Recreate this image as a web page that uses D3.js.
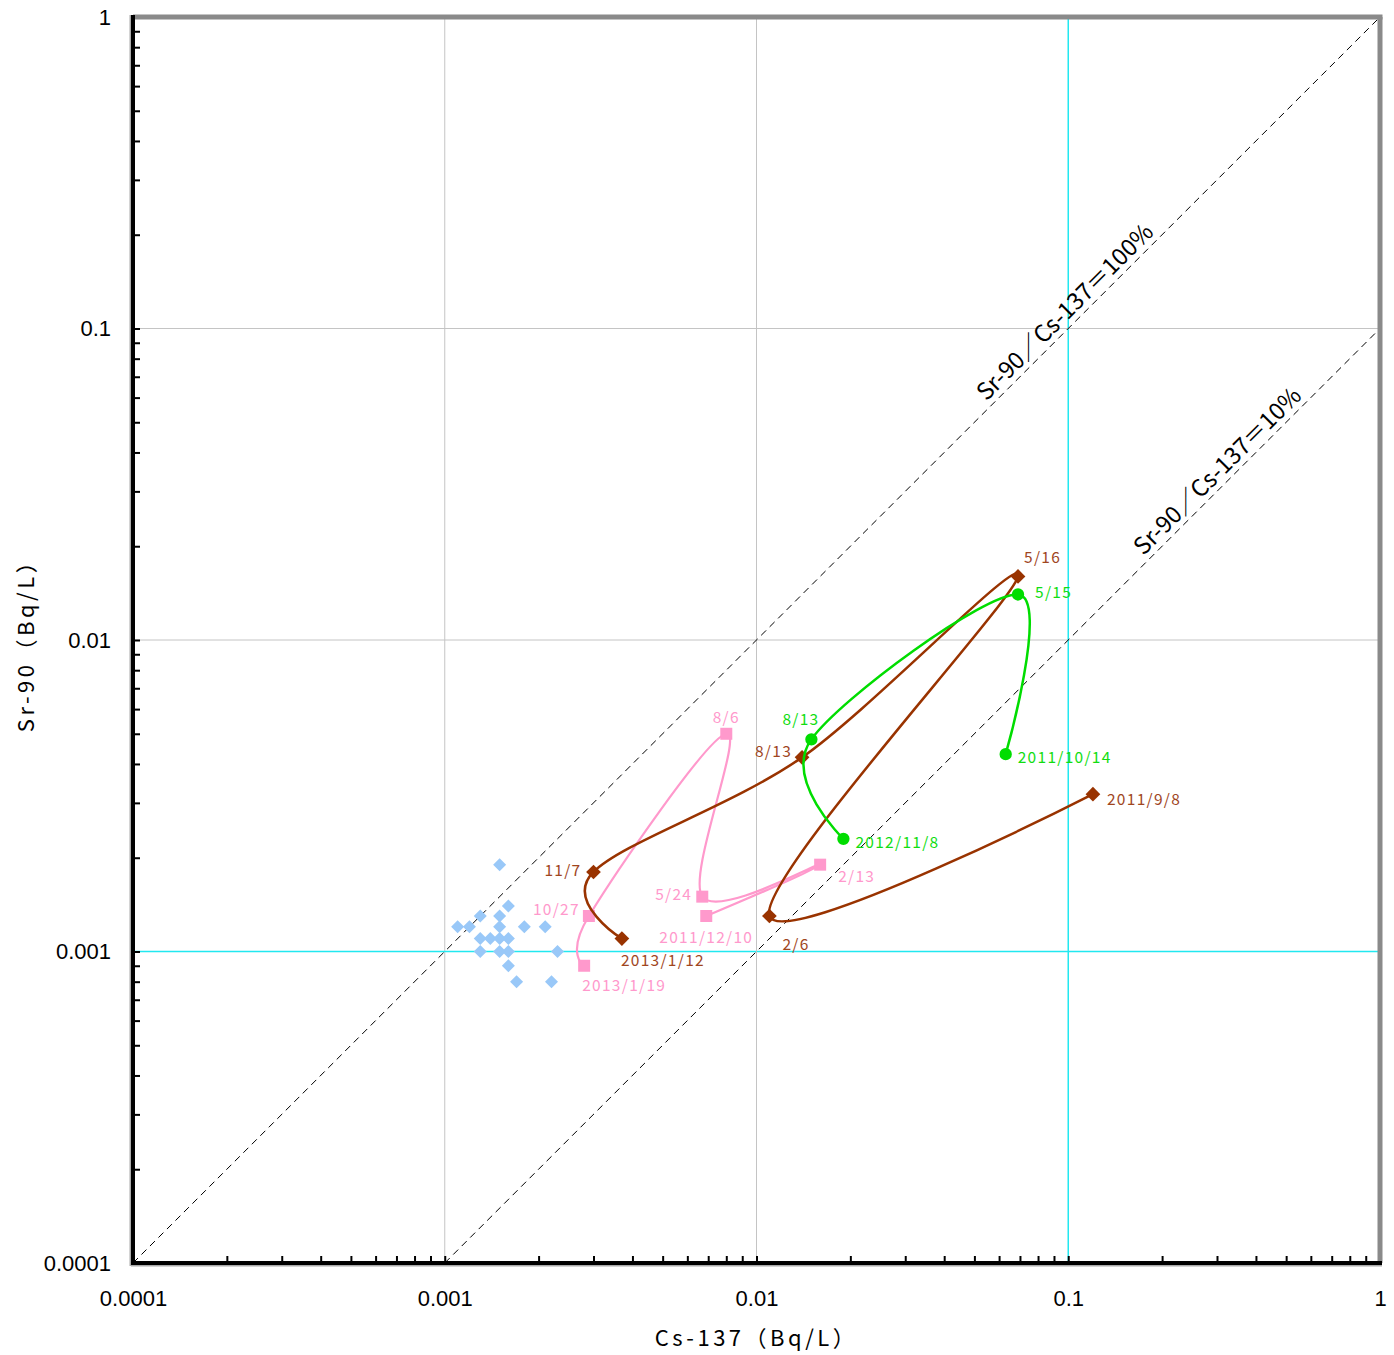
<!DOCTYPE html>
<html><head><meta charset="utf-8">
<script src="https://cdn.jsdelivr.net/npm/d3@7"></script>
<style>
html,body{margin:0;padding:0;background:#fff;}
svg{display:block;}
</style></head>
<body>
<svg id="chart" width="1394" height="1355"></svg>
<script>
// ---------------- data ----------------
const xTickLabels = ["0.0001", "0.001", "0.01", "0.1", "1"];
const yTickLabels = ["0.0001", "0.001", "0.01", "0.1", "1"];
const decadeValues = [0.0001, 0.001, 0.01, 0.1, 1];

// background scatter (no dates)
const blueCs = [0.0015, 0.0016, 0.0013, 0.0015, 0.0011, 0.0012, 0.0015, 0.0018, 0.0021, 0.0013,
                0.0014, 0.0015, 0.0016, 0.0013, 0.0015, 0.0016, 0.0023, 0.0016, 0.0017, 0.0022];
const blueSr = [0.0019, 0.0014, 0.0013, 0.0013, 0.0012, 0.0012, 0.0012, 0.0012, 0.0012, 0.0011,
                0.0011, 0.0011, 0.0011, 0.0010, 0.0010, 0.0010, 0.0010, 0.0009, 0.0008, 0.0008];

// brown series (diamonds)
const brownDates = ["2011/9/8", "2/6", "5/16", "8/13", "11/7", "2013/1/12"];
const brownCs = [0.12, 0.011, 0.069, 0.014, 0.0030, 0.0037];
const brownSr = [0.0032, 0.0013, 0.016, 0.0042, 0.0018, 0.0011];

// green series (circles)
const greenDates = ["2011/10/14", "5/15", "8/13", "2012/11/8"];
const greenCs = [0.063, 0.069, 0.015, 0.019];
const greenSr = [0.0043, 0.014, 0.0048, 0.0023];

// pink series (squares)
const pinkDates = ["2011/12/10", "2/13", "5/24", "8/6", "10/27", "2013/1/19"];
const pinkCs = [0.0069, 0.016, 0.0067, 0.0080, 0.0029, 0.0028];
const pinkSr = [0.0013, 0.0019, 0.0015, 0.0050, 0.0013, 0.0009];

// ratio reference lines
const ratioValues = [1, 0.1];
const ratioLabels = ["Sr-90／Cs-137＝100%", "Sr-90／Cs-137＝10%"];

// ---------------- layout ----------------
const L = 133, R = 1380, T = 17, B = 1263;
const svg = d3.select("#chart");
const x = d3.scaleLog().domain([0.0001, 1]).range([L, R]);
const y = d3.scaleLog().domain([0.0001, 1]).range([B, T]);

const labelOffsets = {
  brown: [[14, 4, "start"], [13, 27, "start"], [6, -20, "start"], [-10, -7, "end"], [-12, -3, "end"], [-1, 20, "start"]],
  green: [[12, 2, "start"], [17, -3, "start"], [-29, -21, "start"], [12, 2, "start"]],
  pink: [[0, 20, "middle"], [18, 10, "start"], [-10, -4, "end"], [0, -18, "middle"], [-9, -8, "end"], [-2, 18, "start"]]
};

const labelFont = "'Noto Sans CJK JP', 'Noto Sans CJK SC', sans-serif";

// gridlines
const grid = svg.append("g");
decadeValues.slice(1, -1).forEach(v => {
  grid.append("line").attr("x1", x(v)).attr("x2", x(v)).attr("y1", T).attr("y2", B)
    .attr("stroke", v === 0.1 ? "#22e8f0" : "#c4c4c4").attr("stroke-width", v === 0.1 ? 1.5 : 1);
  grid.append("line").attr("x1", L).attr("x2", R).attr("y1", y(v)).attr("y2", y(v))
    .attr("stroke", v === 0.001 ? "#22e8f0" : "#c4c4c4").attr("stroke-width", v === 0.001 ? 1.5 : 1);
});

// ratio lines
svg.append("clipPath").attr("id", "plotclip").append("rect")
  .attr("x", L).attr("y", T).attr("width", R - L).attr("height", B - T);
const ratioG = svg.append("g").attr("clip-path", "url(#plotclip)");
const angle = Math.atan2(y(1) - y(0.0001), x(1) - x(0.0001)) * 180 / Math.PI;
ratioValues.forEach((r) => {
  const x0 = Math.max(0.0001, 0.0001 / r);
  ratioG.append("line")
    .attr("x1", x(x0)).attr("y1", y(x0 * r))
    .attr("x2", x(1)).attr("y2", y(r))
    .attr("stroke", "#000").attr("stroke-width", 1).attr("stroke-dasharray", "7,5");
});
const ratioAnchor = [0.105, 0.324];
ratioValues.forEach((r, i) => {
  const cx = ratioAnchor[i];
  svg.append("text")
    .attr("transform", `translate(${x(cx)},${y(cx * r)}) rotate(${angle})`)
    .attr("y", -6)
    .attr("text-anchor", "middle")
    .attr("font-family", labelFont)
    .attr("font-size", 23.5)
    .attr("fill", "#000")
    .text(ratioLabels[i]);
});

// axes
const allTicks = [];
for (let e = -4; e < 0; e++) for (let m = 1; m <= 9; m++) allTicks.push(m * Math.pow(10, e));
allTicks.push(1);
const findDecade = d => decadeValues.findIndex(v => Math.abs(v - d) / v < 1e-6);
const fmtX = d => { const i = findDecade(d); return i >= 0 ? xTickLabels[i] : ""; };
const fmtY = d => { const i = findDecade(d); return i >= 0 ? yTickLabels[i] : ""; };
const xAxis = svg.append("g").attr("transform", `translate(0,${B})`)
  .call(d3.axisBottom(x).tickValues(allTicks).tickFormat(fmtX).tickSize(-7).tickPadding(27));
const yAxis = svg.append("g").attr("transform", `translate(${L},0)`)
  .call(d3.axisLeft(y).tickValues(allTicks).tickFormat(fmtY).tickSize(-7).tickPadding(22));
[xAxis, yAxis].forEach(g => {
  g.select(".domain").remove();
  g.selectAll(".tick line").attr("stroke", "#000").attr("stroke-width", 2);
  g.selectAll("text").attr("font-family", "'Liberation Sans', Arial, sans-serif")
    .attr("font-size", 22).attr("fill", "#000");
});

// frame: top & right gray, left & bottom black with shadow
svg.append("line").attr("x1", L).attr("x2", R + 2.5).attr("y1", T).attr("y2", T)
  .attr("stroke", "#8a8a8a").attr("stroke-width", 5);
svg.append("line").attr("x1", R).attr("x2", R).attr("y1", T).attr("y2", B)
  .attr("stroke", "#8a8a8a").attr("stroke-width", 5);
svg.append("line").attr("x1", L - 2.5).attr("x2", L - 2.5).attr("y1", T - 2).attr("y2", B + 3)
  .attr("stroke", "#aaaaaa").attr("stroke-width", 2);
svg.append("line").attr("x1", L - 2).attr("x2", R + 2).attr("y1", B + 2.5).attr("y2", B + 2.5)
  .attr("stroke", "#aaaaaa").attr("stroke-width", 2);
svg.append("line").attr("x1", L).attr("x2", L).attr("y1", T - 2).attr("y2", B + 2)
  .attr("stroke", "#000").attr("stroke-width", 4);
svg.append("line").attr("x1", L - 2).attr("x2", R + 2).attr("y1", B).attr("y2", B)
  .attr("stroke", "#000").attr("stroke-width", 4);

// axis titles
svg.append("text").attr("x", (L + R) / 2).attr("y", 1346).attr("text-anchor", "middle")
  .attr("font-family", labelFont).attr("font-size", 22).attr("letter-spacing", 3.5).attr("fill", "#000")
  .text("Cs-137（Bq/L）");
svg.append("text").attr("transform", `translate(34,${(T + B) / 2}) rotate(-90)`)
  .attr("text-anchor", "middle")
  .attr("font-family", labelFont).attr("font-size", 22).attr("letter-spacing", 3.5).attr("fill", "#000")
  .text("Sr-90（Bq/L）");

// blue scatter
const blueData = blueCs.map((c, i) => [c, blueSr[i]]);
svg.append("g").selectAll("path").data(blueData).join("path")
  .attr("transform", d => `translate(${x(d[0])},${y(d[1])}) rotate(45)`)
  .attr("d", "M-4.6,-4.6H4.6V4.6H-4.6Z")
  .attr("fill", "#99c8f8");

// series
const line = d3.line().x(d => x(d[0])).y(d => y(d[1])).curve(d3.curveCatmullRom.alpha(0));
function series(cs, sr, dates, color, labelColor, width, shape, offsets) {
  const data = cs.map((c, i) => [c, sr[i], dates[i]]);
  const g = svg.append("g");
  g.append("path").datum(data).attr("d", line).attr("fill", "none")
    .attr("stroke", color).attr("stroke-width", width);
  const m = g.selectAll(".m").data(data).join("path")
    .attr("transform", d => `translate(${x(d[0])},${y(d[1])})` + (shape === "diamond" ? " rotate(45)" : ""))
    .attr("fill", color);
  if (shape === "diamond") m.attr("d", "M-5.2,-5.2H5.2V5.2H-5.2Z");
  else if (shape === "square") m.attr("d", "M-6,-6H6V6H-6Z");
  else m.attr("d", d3.symbol().type(d3.symbolCircle).size(Math.PI * 38));
  g.selectAll(".lbl").data(data).join("text")
    .attr("x", (d, i) => x(d[0]) + offsets[i][0])
    .attr("y", (d, i) => y(d[1]) + offsets[i][1])
    .attr("text-anchor", (d, i) => offsets[i][2])
    .attr("dominant-baseline", "central")
    .attr("font-family", labelFont).attr("font-size", 15.5).attr("letter-spacing", 1.3)
    .attr("fill", labelColor)
    .text(d => d[2]);
}
series(pinkCs, pinkSr, pinkDates, "#ff99cc", "#ff99cc", 2.2, "square", labelOffsets.pink);
series(brownCs, brownSr, brownDates, "#993300", "#a0461e", 2.5, "diamond", labelOffsets.brown);
series(greenCs, greenSr, greenDates, "#00dd00", "#11dd11", 2.5, "circle", labelOffsets.green);
</script>
</body></html>
